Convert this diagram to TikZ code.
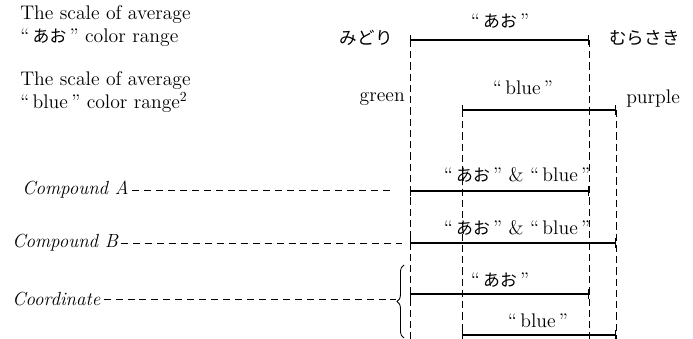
\documentclass[tikz,border=0pt]{standalone}
\usepackage{fontspec}
\newfontfamily\jp{Noto Sans CJK JP}
\usetikzlibrary{arrows.meta,decorations.pathreplacing,positioning}

\newcommand{\ao}{“\,{\jp\fontsize{12}{14}\selectfont あお}\,”}
\newcommand{\bl}{“\,blue\,”}

\tikzset{
  txt/.style={font=\fontsize{14}{16.5}\selectfont, inner sep=0pt, align=left},
  ital/.style={txt, font=\fontsize{13.5}{16}\selectfont\itshape},
  kana/.style={inner sep=0pt, font=\jp\fontsize{12.5}{15}\selectfont},
  rangebar/.style={line width=0.9pt, {Bar[width=7pt,line width=0.9pt]}-{Bar[width=7pt,line width=0.9pt]}},
  guide/.style={line width=0.5pt, dash pattern=on 5pt off 3pt},
  lead/.style={line width=0.5pt, dash pattern=on 5pt off 3.5pt},
}

\begin{document}
\begin{tikzpicture}[x=0.025cm, y=-0.025cm]
  \useasboundingbox (0,0) rectangle (693,339);

  % bar end points
  \coordinate (aoL) at (410,40);   \coordinate (aoR) at (589,40);
  \coordinate (blL) at (462,110);  \coordinate (blR) at (616,110);
  \coordinate (caL) at (410,191);  \coordinate (caR) at (589,191);
  \coordinate (cbL) at (410,243);  \coordinate (cbR) at (616,243);
  \coordinate (coaL) at (410,294); \coordinate (coaR) at (589,294);
  \coordinate (cobL) at (462,335); \coordinate (cobR) at (616,335);
  % foot of the guide lines
  \coordinate (f1) at (410,339); \coordinate (f2) at (462,339);
  \coordinate (f3) at (589,339); \coordinate (f4) at (616,339);

  % guide lines
  \draw[guide] (aoL) -- (f1);
  \draw[guide] (aoR) -- (f3);
  \draw[guide] (blL) -- (f2);
  \draw[guide] (blR) -- (f4);

  % scale labels on the left
  \node[txt, anchor=west] (sAo) at (20,26) {The scale of average\\\ao\ color range};
  \node[txt, anchor=west] (sBl) at (20,92) {The scale of average\\\bl\ color range\textsuperscript{2}};

  % end names of the scales
  \node[kana, anchor=east] (midori) at (393,38) {みどり};
  \node[kana, anchor=west] (murasaki) at (609,38) {むらさき};
  \node[txt, anchor=east] (green) at (405,99) {green};
  \node[txt, anchor=west] (purple) at (626,99) {purple};

  % ranges
  \draw[rangebar] (aoL) -- (aoR);
  \node[txt] (tAo) at (500,21) {\ao};
  \draw[rangebar] (blL) -- (blR);
  \node[txt] (tBl) at (523,88) {\bl};

  \draw[rangebar] (caL) -- (caR);
  \node[txt] (tCa) at (517,175) {\ao\ \& \bl};
  \draw[rangebar] (cbL) -- (cbR);
  \node[txt] (tCb) at (517,228) {\ao\ \& \bl};

  \draw[rangebar] (coaL) -- (coaR);
  \node[txt] (tCoa) at (500,280) {\ao};
  \draw[rangebar] (cobL) -- (cobR);
  \node[txt] (tCob) at (538,321) {\bl};

  % names with leader lines
  \node[ital, anchor=west] (cmpA) at (22,190) {Compound~A};
  \coordinate (cmpAend) at (390,190);
  \draw[lead] (cmpA.east) ++(3,0) -- (cmpAend);
  \node[ital, anchor=west] (cmpB) at (12,243) {Compound~B};
  \coordinate (cmpBend) at (402,243);
  \draw[lead] (cmpB.east) ++(3,0) -- (cmpBend);
  \node[ital, anchor=west] (coord) at (12,299) {Coordinate};
  \coordinate (brTip) at (396,299);
  \draw[lead] (coord.east) ++(3,0) -- (brTip);
  \draw[line width=0.6pt, decorate, decoration={brace, amplitude=5pt}]
    (404,338) -- (404,265);
\end{tikzpicture}
\end{document}
